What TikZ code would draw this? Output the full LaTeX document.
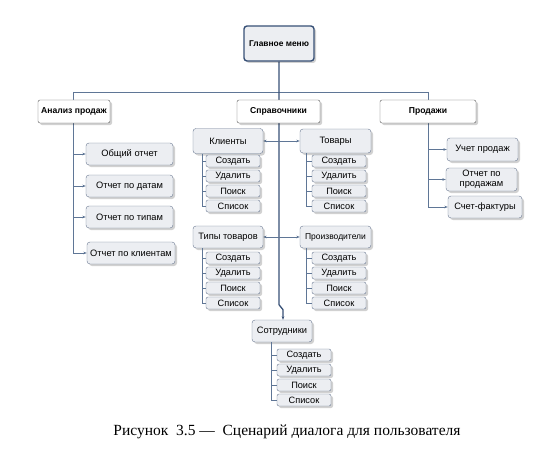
\documentclass[tikz,border=0pt]{standalone}
\usepackage{fontspec}
\setmainfont{Liberation Serif}
\setsansfont{Liberation Sans}
\usetikzlibrary{arrows.meta, positioning, shadows, backgrounds}
\definecolor{mynavy}{RGB}{55, 80, 118}
\definecolor{myline}{RGB}{95, 118, 150}
\definecolor{myfill}{RGB}{236, 238, 242}
\definecolor{myedge}{RGB}{105, 120, 145}

\begin{document}
\begin{tikzpicture}[x=1pt,y=-1pt,
          >={Stealth[length=3.5pt,width=2.6pt]},
          every node/.style={font=\sffamily\fontsize{9.3}{10.2}\selectfont},
          shad/.style={drop shadow={shadow xshift=2pt,shadow yshift=-2pt,
                       fill=black,opacity=0.18}},
          glavbox/.style={draw=mynavy,line width=1.4pt,fill=myfill,
                      rounded corners=3pt,minimum width=70pt,minimum height=35pt,
                      inner sep=1pt,font=\sffamily\bfseries\fontsize{8.4}{9.6}\selectfont,shad},
          topbox/.style={draw=black!65,fill=white,rounded corners=2pt,
                      minimum height=23pt,inner sep=1pt,
                      font=\sffamily\bfseries\fontsize{8.6}{9.6}\selectfont,shad},
          grpbox/.style={draw=myedge,fill=myfill,rounded corners=3pt,
                      minimum width=70pt,minimum height=23pt,inner sep=1pt,shad},
          repbox/.style={draw=myedge,fill=myfill,rounded corners=3pt,
                      minimum width=87pt,minimum height=22pt,inner sep=1pt,
                      align=center,shad},
          subbox/.style={draw=myedge,fill=myfill,rounded corners=2pt,
                      minimum width=54pt,minimum height=12pt,inner sep=0pt,
                      font=\sffamily\fontsize{9.2}{10}\selectfont,shad},
          conn/.style={draw=myline,line width=0.7pt},
          trunk/.style={draw=mynavy,line width=1.3pt}]
        \useasboundingbox (0,0) rectangle (544,460);

        % верхний уровень
        \node[glavbox] (glav) at (279,43.5) {Главное меню};
        \node[topbox,minimum width=72pt] (anal) at (74,111.5) {Анализ продаж};
        \node[topbox,minimum width=83pt] (sprav) at (278.5,111.5) {Справочники};
        \node[topbox,minimum width=96pt] (prod) at (428,111.5) {Продажи};

        % анализ продаж
        \node[repbox] (oo) at (129.5,154) {Общий отчет};
        \node[repbox] (od) at (129.5,186) {Отчет по датам};
        \node[repbox] (ot) at (129.5,217) {Отчет по типам};
        \node[repbox,minimum width=88pt] (ok) at (131,253) {Отчет по клиентам};

        % продажи
        \node[repbox,minimum width=71pt,minimum height=23pt] (up) at (482.5,149.5) {Учет продаж};
        \node[repbox,minimum width=71pt,minimum height=23pt] (opp) at (481.5,179.5)
          {Отчет по\\продажам};
        \node[repbox,minimum width=74pt] (sf) at (485,207) {Счет-фактуры};

        % справочники
        \node[grpbox,minimum height=25pt] (kl) at (228,141) {Клиенты};
        \node[grpbox,minimum width=71pt,minimum height=24pt] (tv) at (335.5,141) {Товары};
        \node[grpbox,minimum height=22pt] (tt) at (228,237) {Типы товаров};
        \node[grpbox,minimum width=71pt,minimum height=22pt,
              font=\sffamily\fontsize{8.5}{9.6}\selectfont] (pr) at (335.5,237) {Производители};
        \node[grpbox,minimum width=60pt,minimum height=22pt] (st) at (282,331) {Сотрудники};

        \foreach \g/\x/\y/\dx in {kl/233/161/10, tv/339/161/7, tt/233/258/10,
                                  pr/339/258/7, st/304/355/20}{
          \foreach \nm [count=\i from 0] in {Создать,Удалить,Поиск,Список}
            \node[subbox] (\g\i) at (\x,\y+15*\i) {\nm};
          \coordinate (\g v) at ([xshift=\dx pt]\g.south west);
          \draw[conn] (\g v) |- (\g3.west);
          \foreach \i in {0,1,2}
            \draw[conn] (\g v |- \g\i.west) -- (\g\i.west);
        }

        \node[font=\rmfamily\fontsize{15.5}{17}\selectfont] (cap) at (287,432)
          {Рисунок~~3.5 —~~Сценарий диалога для пользователя};

        % связи
        \begin{scope}[on background layer]
          \coordinate (busL) at (73,92);
          \coordinate (busR) at (428,92);
          \coordinate (stin) at ([xshift=1pt]st.north);
          \draw[conn] (busL) -- (busR) -- (prod.north);
          \draw[trunk,->] (glav.south) -- ++(0,243) -- ++(4,5) -- (stin);
          \draw[conn,->] (busL) |- (ok.west);
          \foreach \n in {oo,od,ot}
            \draw[conn,->] (busL |- \n.west) -- (\n.west);
          \draw[conn,->] (prod.south) |- (sf.west);
          \foreach \n in {up,opp}
            \draw[conn,->] (prod.south |- \n.west) -- (\n.west);
          \foreach \n in {kl,tt}
            \draw[conn,->] (glav.south |- \n.east) -- (\n.east);
          \foreach \n in {tv,pr}
            \draw[conn,->] (glav.south |- \n.west) -- (\n.west);
        \end{scope}
      \end{tikzpicture}
\end{document}
